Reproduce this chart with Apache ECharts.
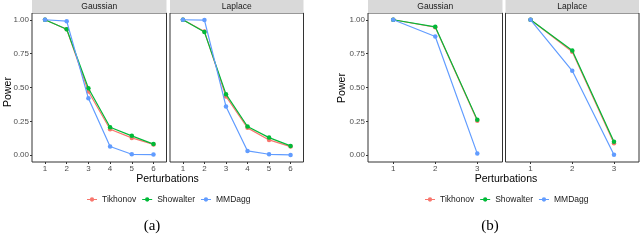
<!DOCTYPE html>
<html><head><meta charset="utf-8">
<script src="https://cdn.jsdelivr.net/npm/echarts@6/dist/echarts.min.js"></script>
<style>html,body{margin:0;padding:0;background:#fff}#c{width:640px;height:251px}</style>
</head><body><div id="c"></div>
<script>
// ---- data ----
const seriesNames = ['Tikhonov', 'Showalter', 'MMDagg'];
const xCatsA = [1, 2, 3, 4, 5, 6];
const xCatsB = [1, 2, 3];
const yTicks = [0, 0.25, 0.5, 0.75, 1];
const panelTitles = ['Gaussian', 'Laplace', 'Gaussian', 'Laplace'];
const subLabels = ['(a)', '(b)'];

const gaussA_tik = [1.00, 0.93, 0.47, 0.192, 0.128, 0.080];
const gaussA_sho = [1.00, 0.93, 0.495, 0.207, 0.143, 0.082];
const gaussA_mmd = [1.00, 0.99, 0.42, 0.064, 0.007, 0.005];
const lapA_tik = [1.00, 0.914, 0.434, 0.202, 0.113, 0.064];
const lapA_sho = [1.00, 0.909, 0.451, 0.212, 0.130, 0.069];
const lapA_mmd = [1.00, 0.998, 0.36, 0.032, 0.007, 0.002];
const gaussB_tik = [1.00, 0.945, 0.255];
const gaussB_sho = [1.00, 0.948, 0.261];
const gaussB_mmd = [1.00, 0.877, 0.012];
const lapB_tik = [1.00, 0.764, 0.089];
const lapB_sho = [1.00, 0.773, 0.099];
const lapB_mmd = [1.00, 0.623, 0.003];

const colors = ['#F8766D', '#00BA38', '#619CFF'];
const FONT = '"Liberation Sans", Arial, sans-serif';

const panels = [
  {left: 32, width: 134.5, cats: xCatsA, data: [gaussA_tik, gaussA_sho, gaussA_mmd], yLab: true},
  {left: 170, width: 133.5, cats: xCatsA, data: [lapA_tik, lapA_sho, lapA_mmd], yLab: false},
  {left: 368, width: 134.5, cats: xCatsB, data: [gaussB_tik, gaussB_sho, gaussB_mmd], yLab: true},
  {left: 505.5, width: 133.5, cats: xCatsB, data: [lapB_tik, lapB_sho, lapB_mmd], yLab: false}
];
const TOP = 13, H = 149;

const grid = [], xAxis = [], yAxis = [], series = [], graphic = [];
panels.forEach((p, i) => {
  grid.push({left: p.left, top: TOP, width: p.width, height: H, show: true,
    borderColor: '#333333', borderWidth: 1, backgroundColor: '#fff', containLabel: false});
  xAxis.push({type: 'value', gridIndex: i, min: 0.4, max: p.cats.length + 0.6, position: 'bottom',
    axisLine: {show: false, onZero: false}, splitLine: {show: false},
    axisTick: {show: true, length: 2, lineStyle: {color: '#333'}, customValues: p.cats},
    axisLabel: {show: true, customValues: p.cats, margin: 2.5, color: '#4D4D4D',
      fontSize: 8, fontFamily: FONT}});
  yAxis.push({type: 'value', gridIndex: i, min: -0.05, max: 1.05, position: 'left',
    axisLine: {show: false, onZero: false}, splitLine: {show: false},
    axisTick: {show: p.yLab, length: 2, lineStyle: {color: '#333'}, customValues: yTicks},
    axisLabel: {show: p.yLab, customValues: yTicks, margin: 3, color: '#4D4D4D',
      fontSize: 8, fontFamily: FONT, formatter: v => v.toFixed(2)}});
  p.data.forEach((vals, k) => {
    series.push({name: seriesNames[k], type: 'line', xAxisIndex: i, yAxisIndex: i,
      data: p.cats.map((c, j) => [c, vals[j]]),
      symbol: 'circle', symbolSize: 4.5, showSymbol: true,
      lineStyle: {width: 1.2, color: colors[k]}, itemStyle: {color: colors[k]},
      animation: false, z: 2 + k});
  });
  // strip
  graphic.push({type: 'rect', shape: {x: p.left, y: 0, width: p.width, height: TOP},
    style: {fill: '#D9D9D9'}, z: 1});
  graphic.push({type: 'text', x: p.left + p.width / 2, y: TOP / 2 + 0.5,
    style: {text: panelTitles[i], fill: '#1A1A1A', font: '8.5px ' + FONT,
      textAlign: 'center', textVerticalAlign: 'middle'}, z: 2});
});

// axis titles and sub labels
[{cx: 167.5, px: 8, py: 92, sx: 152}, {cx: 506, px: 342, py: 88, sx: 490}].forEach((g, j) => {
  graphic.push({type: 'text', x: g.cx, y: 179.5,
    style: {text: 'Perturbations', fill: '#000', font: '10.5px ' + FONT,
      textAlign: 'center', textVerticalAlign: 'middle'}});
  graphic.push({type: 'text', x: g.px, y: g.py, rotation: Math.PI / 2,
    style: {text: 'Power', fill: '#000', font: '10.5px ' + FONT,
      textAlign: 'center', textVerticalAlign: 'middle'}});
  graphic.push({type: 'text', x: g.sx, y: 226,
    style: {text: subLabels[j], fill: '#000', font: '15px "Liberation Serif", "DejaVu Serif", serif',
      textAlign: 'center', textVerticalAlign: 'middle'}});
});

const legIcon = 'path://M0,4 L12,4 L12,5 L0,5 Z M8.6,4.5 A2.6,2.6 0 1,1 3.4,4.5 A2.6,2.6 0 1,1 8.6,4.5 Z';
const legend = [87, 425].map(l => ({
  data: seriesNames.map(n => ({name: n, icon: legIcon})),
  left: l, top: 195, padding: 0, orient: 'horizontal', itemWidth: 10, itemHeight: 8, itemGap: 6,
  textStyle: {fontSize: 8.5, fontFamily: FONT, color: '#1A1A1A'},
  selectedMode: false
}));

const chart = echarts.init(document.getElementById('c'), null, {renderer: 'canvas'});
chart.setOption({animation: false, color: colors, grid, xAxis, yAxis, series, legend, graphic});
</script></body></html>
